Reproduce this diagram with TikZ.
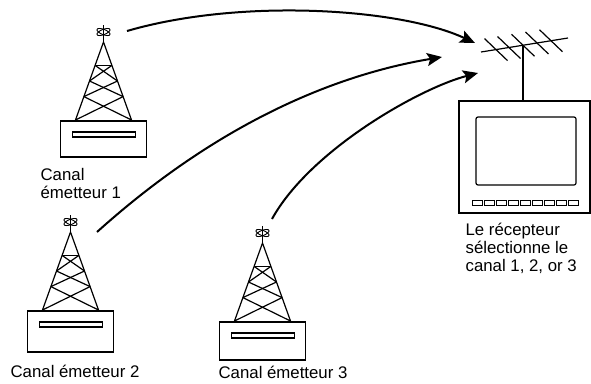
\documentclass[tikz,border=0pt]{standalone}
\usepackage{fontspec}
\setmainfont{Liberation Sans}
\usetikzlibrary{arrows.meta}
\tikzset{
  every picture/.style={line width=1.2pt},
  lbl/.style={font=\fontsize{16.8}{18}\selectfont,inner sep=0pt,align=left},
  sig/.style={-{Stealth[length=15pt,width=13pt,inset=3pt]},line width=2pt},
}
% transmitter: cabinet top centre at (#1,#2), cabinet height #3
\newcommand{\pylon}[3]{
  \draw ({#1-43},{#2}) rectangle ({#1+43},{#2+#3});
  \draw ({#1-31},{#2+11}) rectangle ({#1+32},{#2+16});
  \draw ({#1-28},{#2-1}) -- ({#1},{#2-79}) -- ({#1+28},{#2-1});
  \draw ({#1-8.4},{#2-55.6}) -- ({#1+8.4},{#2-55.6});
  \foreach \a/\b in {0.3/0.5,0.5/0.7,0.7/1}{
    \draw ({#1-28*\a},{#2-79+78*\a}) -- ({#1+28*\b},{#2-79+78*\b});
    \draw ({#1+28*\a},{#2-79+78*\a}) -- ({#1-28*\b},{#2-79+78*\b});
  }
  \draw ({#1},{#2-79}) -- ({#1},{#2-96});
  \draw[line width=0.9pt,rotate around={22:({#1},{#2-89})}] ({#1},{#2-89}) ellipse (7 and 2.6);
  \draw[line width=0.9pt,rotate around={-22:({#1},{#2-89})}] ({#1},{#2-89}) ellipse (7 and 2.6);}

\begin{document}
\begin{tikzpicture}[x=1pt,y=-1pt]
\useasboundingbox (0,0) rectangle (591,383);
% transmitters
\pylon{103.5}{121}{36}
\pylon{70.5}{311}{41}
\pylon{262.5}{322}{38}
\node[lbl,anchor=base west] (l1) at (40,198) {Canal\\émetteur 1};
\node[lbl,anchor=base west] (l2) at (10,377) {Canal émetteur 2};
\node[lbl,anchor=base west] (l3) at (218,378) {Canal émetteur 3};
% receiver set
\draw (459,101) rectangle (590,213);
\draw[rounded corners=2pt] (476,117) rectangle (576,185);
\foreach \i in {0,...,8}
  \draw[line width=1pt] ({472.5+12*\i},200) rectangle ++(10,5);
% yagi on the roof
\draw (523,45.2) -- (523,101);
\draw (481,52) -- (568,38);
\foreach \x in {496,509,523,537,551}
  \draw ({\x-11.5},{52-14*(\x-481)/87-11}) -- ({\x+11.5},{52-14*(\x-481)/87+11});
\node[lbl,anchor=base west] (rl) at (465,271) {Le récepteur\\sélectionne le\\canal 1, 2, or 3};
% signals
\coordinate (tx1) at (127,31);   \coordinate (rx1) at (475,43);
\coordinate (tx2) at (97,232);   \coordinate (rx2) at (442,57);
\coordinate (tx3) at (272,219);  \coordinate (rx3) at (478,73);
\draw[sig] (tx1) .. controls (240,-2) and (400,8) .. (rx1);
\draw[sig] (tx2) .. controls (207,133) and (322,77) .. (rx2);
\draw[sig] (tx3) .. controls (310,150) and (420,88) .. (rx3);
\end{tikzpicture}
\end{document}
